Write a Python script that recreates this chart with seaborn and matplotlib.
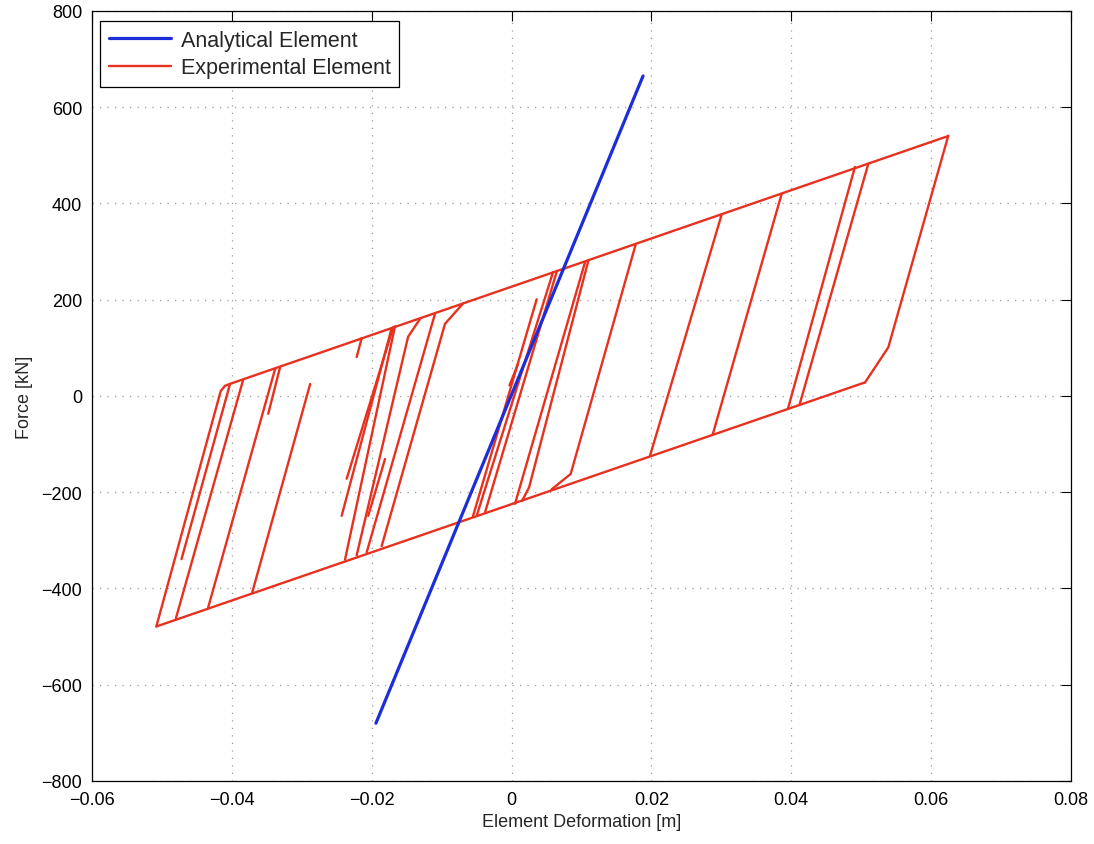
import numpy as np
import pandas as pd
import matplotlib
matplotlib.use("Agg")
import matplotlib.pyplot as plt
import seaborn as sns
from matplotlib.lines import Line2D

# ---------------- data ----------------
x_ticks = [-0.06, -0.04, -0.02, 0.0, 0.02, 0.04, 0.06, 0.08]
x_tick_labels = ["\u22120.06", "\u22120.04", "\u22120.02", "0", "0.02", "0.04", "0.06", "0.08"]
y_ticks = [-800, -600, -400, -200, 0, 200, 400, 600, 800]
y_tick_labels = ["\u2212800", "\u2212600", "\u2212400", "\u2212200", "0", "200", "400", "600", "800"]

# Analytical element (linear)
analytical_x = [-0.0194, 0.0188]
analytical_F = [-680, 665]

# Experimental element: hysteresis branches (deformation [m], force [kN])
exp_upper_env = [(-0.0403, 25), (0.0624, 540)]
exp_lower_env = [(-0.0508, -479), (0.0505, 28)]
exp_branches = [
    [(-0.0508, -479), (-0.0416, 10), (-0.0410, 21), (-0.0403, 25)],
    [(-0.0403, 23), (-0.0472, -339)],
    [(-0.0384, 33), (-0.0480, -462)],
    [(-0.0338, 57), (-0.0434, -440)],
    [(-0.0331, 60), (-0.0348, -37)],
    [(-0.0288, 25), (-0.0371, -409)],
    [(-0.02144, 120), (-0.02215, 81)],
    [(-0.01715, 141), (-0.0243, -249)],
    [(-0.01692, 143), (-0.02358, -172)],
    [(-0.01667, 145), (-0.02382, -340)],
    [(-0.0131, 160), (-0.0148, 123), (-0.02215, -331)],
    [(-0.01095, 171), (-0.02072, -325)],
    [(-0.00695, 192), (-0.00952, 150), (-0.01858, -312)],
    [(-0.0181, -131), (-0.0205, -249)],
    [(0.00359, 201), (-0.00552, -250)],
    [(0.00592, 257), (-0.00495, -247)],
    [(0.00649, 260), (-0.0038, -242)],
    [(0.0009, 66), (-0.0003, 22)],
    [(0.0105, 278), (0.00049, -224)],
    [(0.01097, 281), (0.0025, -190), (0.0015, -218)],
    [(0.01773, 314), (0.00845, -162), (0.00573, -194)],
    [(0.03004, 377), (0.0198, -124)],
    [(0.03862, 420), (0.02876, -80)],
    [(0.0491, 476), (0.03953, -26)],
    [(0.051, 482), (0.0412, -17)],
    [(0.06245, 541), (0.05387, 101), (0.05054, 28)],
]

# ---------------- frames ----------------
rows = []
for i, seg in enumerate([exp_upper_env, exp_lower_env] + exp_branches):
    for k, (xx, ff) in enumerate(seg):
        rows.append({"x": xx, "F": ff, "seg": i, "order": k})
red_df = pd.DataFrame(rows)
blue_df = pd.DataFrame({"x": analytical_x, "F": analytical_F, "seg": 0})

# ---------------- style ----------------
sns.set_style("white")
plt.rcParams["font.family"] = ["Liberation Sans", "DejaVu Sans"]
plt.rcParams["axes.unicode_minus"] = True

red = "#e8301f"
blue = "#1c2ed8"

fig = plt.figure(figsize=(10.94, 8.45), dpi=100)
ax = fig.add_axes([0.0841, 0.0746, 0.8949, 0.9112])

sns.lineplot(data=red_df, x="x", y="F", units="seg", estimator=None, sort=False,
             color=red, linewidth=1.7, ax=ax, legend=False, zorder=3)
sns.lineplot(data=blue_df, x="x", y="F", units="seg", estimator=None, sort=False,
             color=blue, linewidth=2.3, ax=ax, legend=False, zorder=4)

ax.set_xlim(-0.06, 0.08)
ax.set_ylim(-800, 800)
ax.set_xticks(x_ticks)
ax.set_xticklabels(x_tick_labels)
ax.set_yticks(y_ticks)
ax.set_yticklabels(y_tick_labels)

ax.grid(True, linestyle=(0, (1, 5)), color="#9a9a9a", linewidth=0.9)
ax.tick_params(direction="in", length=7, width=0.8, top=True, right=True,
               labelsize=13, colors="black", pad=7)
for s in ax.spines.values():
    s.set_color("black")
    s.set_linewidth(0.9)

ax.set_xlabel("Element Deformation [m]", fontsize=13, labelpad=4)
ax.set_ylabel("Force [kN]", fontsize=13, labelpad=6)

handles = [Line2D([0], [0], color=blue, lw=2.3), Line2D([0], [0], color=red, lw=1.7)]
leg = ax.legend(handles, ["Analytical Element", "Experimental Element"],
                loc="upper left", bbox_to_anchor=(0.0082, 0.987), borderaxespad=0,
                fancybox=False, framealpha=1, edgecolor="black", fontsize=15.5,
                handlelength=2.9, handletextpad=0.45, labelspacing=0.3, borderpad=0.4)
leg.get_frame().set_linewidth(0.9)

fig.savefig("out.png", dpi=100)
